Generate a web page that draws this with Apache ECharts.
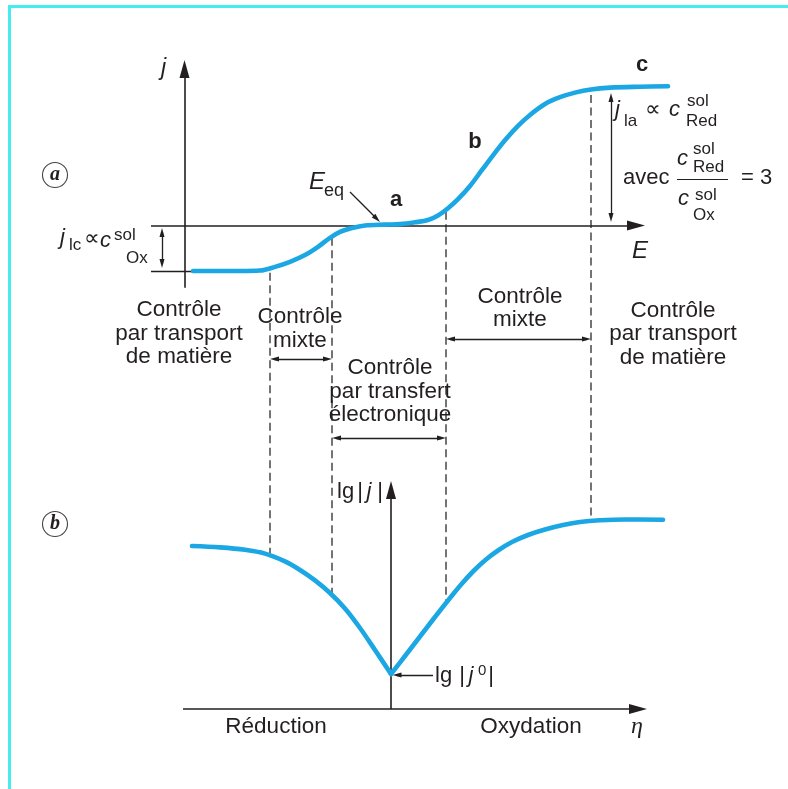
<!DOCTYPE html>
<html>
<head>
<meta charset="utf-8">
<script src="https://cdn.jsdelivr.net/npm/echarts@6/dist/echarts.min.js"></script>
<style>
  html, body { margin: 0; padding: 0; background: #fff; }
  #chart { width: 788px; height: 789px; }
</style>
</head>
<body>
<div id="chart"></div>
<script>
// (a) courbe intensité-potentiel : j en unités de |j_lc| (j_la / |j_lc| = 3)
const currentE = [-19.8, -15.1, -13.1, -11.6, -10.1, -8.6, -7.3, -6.1, -5.1, -3.9, -2.6, -0.6, 0.9, 2.4, 3.7, 4.7, 5.7, 6.7, 7.9, 9.1, 10.3, 11.5, 12.7, 13.9, 15.4, 16.9, 18.4, 20.0, 21.9, 24.9, 27.7];
const currentJ = [-1.0, -1.0, -0.99, -0.91, -0.80, -0.65, -0.47, -0.27, -0.14, -0.055, 0.0, 0.02, 0.03, 0.07, 0.12, 0.22, 0.38, 0.58, 0.87, 1.22, 1.57, 1.90, 2.19, 2.43, 2.67, 2.82, 2.92, 2.99, 3.03, 3.05, 3.06];

// (b) lg|j| en fonction de la surtension : branche cathodique puis anodique
const reductionEta = [-19.9, -17.1, -14.6, -12.6, -10.6, -9.1, -7.6, -6.1, -4.6, -3.1, -1.6, 0];
const reductionLg  = [3.26, 3.232, 3.184, 3.108, 2.952, 2.78, 2.572, 2.32, 2.01, 1.62, 1.18, 0.70];
const oxidationEta = [0, 1.4, 2.9, 4.4, 5.9, 7.1, 8.3, 9.5, 10.7, 12.1, 13.7, 15.4, 17.2, 18.9, 20.9, 23.4, 27.2];
const oxidationLg  = [0.70, 1.06, 1.45, 1.84, 2.22, 2.51, 2.77, 2.99, 3.17, 3.34, 3.48, 3.59, 3.68, 3.74, 3.774, 3.79, 3.784];

// frontières entre domaines de contrôle (potentiel), avec leurs extrémités sur chaque courbe
const boundaryE = [-12.1, -5.9, 5.5, 20.0];
const boundaryTopJ = [-1.04, -0.27, 0.30, 2.87];
const boundaryBottomLg = [3.12, 2.30, 2.14, 3.82];

// libellés
const domainLabels = ['Contrôle\npar transport\nde matière', 'Contrôle\nmixte', 'Contrôle\npar transfert\nélectronique', 'Contrôle\nmixte', 'Contrôle\npar transport\nde matière'];
const directionLabels = ['Réduction', 'Oxydation'];

const BLUE = '#1BA7E4';
const INK = '#231F20';
const SANS = '"Liberation Sans", Arial, sans-serif';
const SERIF = '"Liberation Serif", "DejaVu Serif", serif';

function seg(x1, y1, x2, y2, opt) {
  opt = opt || {};
  const s = opt.size || [5, 9];
  return [
    { coord: [x1, y1], symbol: opt.from || 'none', symbolSize: s,
      lineStyle: { color: INK, width: opt.width || 1.3, type: 'solid' } },
    { coord: [x2, y2], symbol: opt.to || 'none', symbolSize: s }
  ];
}

const AX = { size: [10, 18], width: 1.6 };

const topLines = [
  seg(-20.65, -1.37, -20.65, 3.44, { to: 'triangle', size: AX.size, width: AX.width }),   // axe j
  seg(-24.0, 0, 24.5, 0, { to: 'triangle', size: AX.size, width: AX.width }),             // axe E
  seg(-24.0, -1.0, -19.8, -1.0, { width: 1.3 }),                                           // repère j_lc
  seg(-22.9, -0.154, -22.9, -0.835, { from: 'triangle', to: 'triangle' }),                 // cote j_lc
  seg(22.0, 2.813, 22.0, 0.176, { from: 'triangle', to: 'triangle' }),                     // cote j_la
  seg(-4.1, 0.736, -1.42, 0.147, { to: 'triangle' }),                                       // flèche E_eq
  seg(-11.65, -2.934, -6.35, -2.934, { from: 'triangle', to: 'triangle' }),                 // mixte (réduction)
  seg(-5.45, -4.670, 5.05, -4.670, { from: 'triangle', to: 'triangle' }),                   // transfert électronique
  seg(5.95, -2.495, 19.55, -2.495, { from: 'triangle', to: 'triangle' })                    // mixte (oxydation)
];

const bottomLines = [
  seg(-20.8, 0, 24.7, 0, { to: 'triangle', size: AX.size, width: AX.width }),              // axe η
  seg(0, 0, 0, 4.38, { to: 'triangle', size: AX.size, width: AX.width }),                  // axe lg|j|
  seg(4.2, 0.68, 0.6, 0.68, { to: 'triangle' })                                             // flèche lg|j0|
];

const mlBase = { silent: true, animation: false, label: { show: false }, emphasis: { disabled: true } };

const curveStyle = { color: BLUE, width: 4.6, cap: 'round', join: 'round' };

const option = {
  animation: false,
  backgroundColor: '#fff',
  grid: [
    { left: 11, width: 760, top: 43.5, height: 455 },
    { left: 11, width: 760, top: 459, height: 250 }
  ],
  xAxis: [
    { type: 'value', gridIndex: 0, min: -38, max: 38, show: false },
    { type: 'value', gridIndex: 1, min: -38, max: 38, show: false }
  ],
  yAxis: [
    { type: 'value', gridIndex: 0, min: -6, max: 4, show: false },
    { type: 'value', gridIndex: 1, min: 0, max: 5, show: false }
  ],
  series: [
    {
      type: 'line', xAxisIndex: 0, yAxisIndex: 0, data: [], silent: true, z: 1,
      markLine: Object.assign({ data: topLines }, mlBase)
    },
    {
      type: 'line', xAxisIndex: 1, yAxisIndex: 1, data: [], silent: true, z: 1,
      markLine: Object.assign({ data: bottomLines }, mlBase)
    },
    {
      type: 'line', xAxisIndex: 0, yAxisIndex: 0, z: 5,
      data: currentE.map((e, i) => [e, currentJ[i]]),
      smooth: 0.35, showSymbol: false, silent: true, lineStyle: curveStyle
    },
    {
      type: 'line', xAxisIndex: 1, yAxisIndex: 1, z: 5,
      data: reductionEta.map((e, i) => [e, reductionLg[i]]),
      smooth: 0.35, showSymbol: false, silent: true, lineStyle: curveStyle
    },
    {
      type: 'line', xAxisIndex: 1, yAxisIndex: 1, z: 5,
      data: oxidationEta.map((e, i) => [e, oxidationLg[i]]),
      smooth: 0.35, showSymbol: false, silent: true, lineStyle: curveStyle
    }
  ]
};

const chart = echarts.init(document.getElementById('chart'), null, { renderer: 'canvas' });
chart.setOption(option);

// texte positionné par sa ligne de base
function txt(s, x, base, size, o) {
  o = o || {};
  return {
    type: 'text', x: x, y: base - 0.35 * size, z: 20,
    style: {
      text: s, fill: INK, fontSize: size,
      fontFamily: o.family || SANS, fontStyle: o.italic ? 'italic' : 'normal',
      fontWeight: o.bold ? 'bold' : 'normal',
      align: o.align || 'left', verticalAlign: 'middle'
    }
  };
}
function block(s, cx, top) {
  return {
    type: 'text', x: cx, y: top, z: 20,
    style: { text: s, fill: INK, fontSize: 22.5, fontFamily: SANS, lineHeight: 23.5, align: 'center', verticalAlign: 'top' }
  };
}
function circled(letter, cx, cy) {
  return [
    { type: 'circle', shape: { cx: cx, cy: cy, r: 12.5 }, style: { fill: 'none', stroke: '#444', lineWidth: 1.1 }, z: 20 },
    { type: 'text', x: cx, y: cy, z: 20,
      style: { text: letter, fill: INK, fontSize: 20, fontFamily: SERIF, fontStyle: 'italic', fontWeight: 'bold', align: 'center', verticalAlign: 'middle' } }
  ];
}

const g = [];
// cadre
g.push({ type: 'polyline', shape: { points: [[9.5, 789], [9.5, 6.5], [788, 6.5]] }, style: { stroke: '#45EEEE', lineWidth: 3, fill: 'none' }, z: 0 });

// domaines de contrôle
g.push(block(domainLabels[0], 179, 298.5));
g.push(block(domainLabels[1], 300, 305.5));
g.push(block(domainLabels[2], 390, 356.5));
g.push(block(domainLabels[3], 520, 284.8));
g.push(block(domainLabels[4], 673, 298.8));

// axes et repères
g.push(txt('j', 161, 77, 23, { italic: true }));
g.push(txt('E', 640, 260, 24, { italic: true, align: 'center' }));
g.push(txt('c', 642, 73, 22, { bold: true, align: 'center' }));
g.push(txt('b', 475, 150, 22, { bold: true, align: 'center' }));
g.push(txt('a', 396, 208, 22, { bold: true, align: 'center' }));
g.push(txt('E', 309, 191, 24, { italic: true }));
g.push(txt('eq', 324, 197, 18));

// j_lc ∝ c(sol, Ox)
g.push(txt('j', 60, 246, 22, { italic: true }));
g.push(txt('lc', 69, 251, 17));
g.push(txt('\u221D', 84, 247, 22));
g.push(txt('c', 100, 249, 22, { italic: true }));
g.push(txt('sol', 114, 241, 17));
g.push(txt('Ox', 126, 264, 17));

// j_la ∝ c(sol, Red)
g.push(txt('j', 615, 118, 22, { italic: true }));
g.push(txt('la', 624, 127, 17));
g.push(txt('\u221D', 645, 118, 22));
g.push(txt('c', 669, 118, 22, { italic: true }));
g.push(txt('sol', 687, 107, 17));
g.push(txt('Red', 686, 127, 17));

// avec c(Red)/c(Ox) = 3
g.push(txt('avec', 623, 186, 22));
g.push({ type: 'line', shape: { x1: 677, y1: 179.5, x2: 728, y2: 179.5 }, style: { stroke: INK, lineWidth: 1.2 }, z: 20 });
g.push(txt('c', 677, 167, 22, { italic: true }));
g.push(txt('sol', 693, 155, 17));
g.push(txt('Red', 693, 173, 17));
g.push(txt('c', 678, 207, 22, { italic: true }));
g.push(txt('sol', 695, 201, 17));
g.push(txt('Ox', 693, 221, 17));
g.push(txt('= 3', 741, 186, 22));

// graphique (b)
g.push(txt('lg', 337, 500, 22));
g.push(txt('|', 360, 500, 22, { align: 'center' }));
g.push(txt('j', 369, 500, 22, { italic: true, align: 'center' }));
g.push(txt('|', 380, 500, 22, { align: 'center' }));

g.push(txt('lg', 435, 684, 22));
g.push(txt('|', 462, 684, 22, { align: 'center' }));
g.push(txt('j', 471, 684, 22, { italic: true, align: 'center' }));
g.push(txt('0', 478, 676, 15));
g.push(txt('|', 491, 684, 22, { align: 'center' }));

g.push(txt(directionLabels[0], 276, 735, 22.5, { align: 'center' }));
g.push(txt(directionLabels[1], 531, 735, 22.5, { align: 'center' }));
g.push(txt('\u03B7', 637, 735, 24, { italic: true, align: 'center', family: SERIF }));

g.push.apply(g, circled('a', 55, 175));
g.push.apply(g, circled('b', 55, 524));

// frontières verticales en tirets, d'une courbe à l'autre
boundaryE.forEach(function (e, i) {
  const p1 = chart.convertToPixel({ gridIndex: 0 }, [e, boundaryTopJ[i]]);
  const p2 = chart.convertToPixel({ gridIndex: 1 }, [e, boundaryBottomLg[i]]);
  g.push({ type: 'line', shape: { x1: p1[0], y1: p1[1], x2: p2[0], y2: p2[1] },
           style: { stroke: '#2a2a2a', lineWidth: 1.3, lineDash: [8, 4.5] }, z: 1 });
});

chart.setOption({ graphic: { elements: g } });
</script>
</body>
</html>
